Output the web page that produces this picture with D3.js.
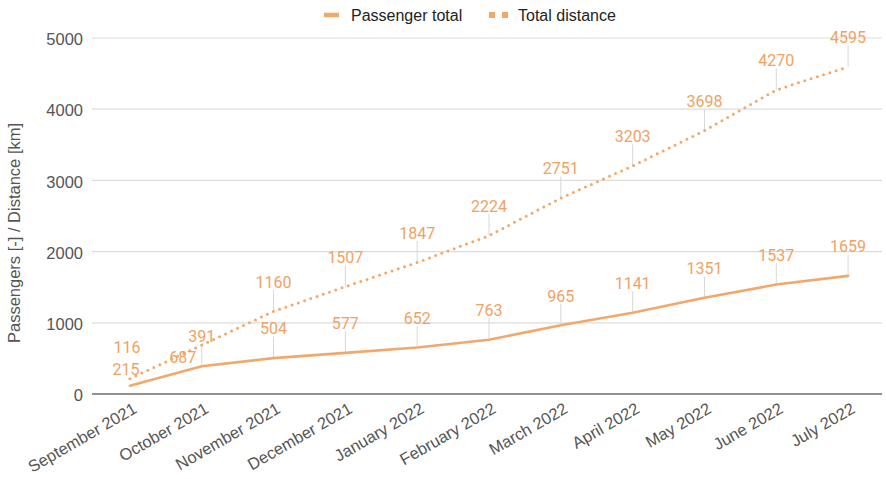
<!DOCTYPE html>
<html>
<head>
<meta charset="utf-8">
<script src="https://cdn.jsdelivr.net/npm/d3@7"></script>
<style>
  body { margin: 0; background: #fff; }
  svg { display: block; }
  .tick text { font-family: "Liberation Sans", Arial, sans-serif; }
</style>
</head>
<body>
<div id="chart"></div>
<script>
// data
const months = ["September 2021", "October 2021", "November 2021", "December 2021",
    "January 2022", "February 2022", "March 2022", "April 2022", "May 2022",
    "June 2022", "July 2022"];
const passengers = [116, 391, 504, 577, 652, 763, 965, 1141, 1351, 1537, 1659];
const distance = [215, 687, 1160, 1507, 1847, 2224, 2751, 3203, 3698, 4270, 4595];
const yTicks = [0, 1000, 2000, 3000, 4000, 5000];

const width = 886, height = 479;
const color = "#f2a86a";
const labelColor = "#f0a262";
const textGray = "#555";

// annotations that were moved out of each other's way in the original
const labelNudge = {
    "distance|September 2021": { dx: -4, dy: 20, stem: false },
    "passengers|September 2021": { dx: -3, dy: -9, stem: false },
    "distance|October 2021": { dx: -19, dy: 42, stem: false }
};

const svg = d3.select("#chart").append("svg")
    .attr("width", width)
    .attr("height", height);

const x = d3.scalePoint().domain(months).range([94, 884]).padding(0.5);
const y = d3.scaleLinear().domain([0, 5000]).range([394, 38]);

const left = 92, right = 882;

// gridlines
svg.append("g")
    .selectAll("line")
    .data(yTicks.filter(d => d > 0))
    .join("line")
    .attr("x1", left).attr("x2", right)
    .attr("y1", d => y(d)).attr("y2", d => y(d))
    .attr("stroke", "#dcdcdc")
    .attr("stroke-width", 1.2);

// y tick labels
const yAxis = svg.append("g")
    .attr("transform", `translate(${left},0)`)
    .call(d3.axisLeft(y).tickValues(yTicks).tickFormat(d3.format("d")).tickSize(0).tickPadding(9));
yAxis.select(".domain").remove();
yAxis.selectAll("text")
    .attr("fill", textGray)
    .attr("dy", "0.4em")
    .style("font-size", "16.5px");

// y title
svg.append("text")
    .attr("transform", "translate(20,233) rotate(-90)")
    .attr("text-anchor", "middle")
    .attr("fill", textGray)
    .style("font-family", "'Liberation Sans', Arial, sans-serif")
    .style("font-size", "16.5px")
    .text("Passengers [-] / Distance [km]");

// baseline
svg.append("line")
    .attr("x1", left).attr("x2", right)
    .attr("y1", y(0)).attr("y2", y(0))
    .attr("stroke", "#6b6b6b")
    .attr("stroke-width", 1.6);

// x labels
svg.append("g")
    .selectAll("text")
    .data(months)
    .join("text")
    .attr("transform", d => `translate(${x(d) + 8},${y(0) + 18}) rotate(-30)`)
    .attr("text-anchor", "end")
    .attr("fill", textGray)
    .style("font-family", "'Liberation Sans', Arial, sans-serif")
    .style("font-size", "16.5px")
    .text(d => d);

const series = [
    { key: "passengers", values: passengers, dash: null },
    { key: "distance", values: distance, dash: "0,6.6" }
];

const line = d3.line()
    .x((d, i) => x(months[i]))
    .y(d => y(d));

// annotation stems + labels
const labels = [];
series.forEach(s => {
    s.values.forEach((v, i) => {
        const n = labelNudge[s.key + "|" + months[i]] || { dx: 0, dy: 0, stem: true };
        labels.push({
            px: x(months[i]), py: y(v),
            lx: x(months[i]) + n.dx, ly: y(v) - 29.5 + n.dy,
            stem: n.stem, text: v
        });
    });
});

svg.append("g")
    .selectAll("line")
    .data(labels.filter(d => d.stem))
    .join("line")
    .attr("x1", d => d.px).attr("x2", d => d.px)
    .attr("y1", d => d.py).attr("y2", d => d.ly + 8)
    .attr("stroke", "#d8d8d8")
    .attr("stroke-width", 1);

svg.append("g")
    .selectAll("path")
    .data(series)
    .join("path")
    .attr("d", d => line(d.values))
    .attr("fill", "none")
    .attr("stroke", color)
    .attr("stroke-width", d => d.dash ? 3 : 2.6)
    .attr("stroke-linecap", "round")
    .attr("stroke-dasharray", d => d.dash);

svg.append("g")
    .selectAll("text")
    .data(labels)
    .join("text")
    .attr("x", d => d.lx)
    .attr("y", d => d.ly)
    .attr("dy", "0.36em")
    .attr("text-anchor", "middle")
    .attr("fill", labelColor)
    .style("font-family", "Roboto, sans-serif")
    .style("font-size", "16px")
    .text(d => d.text);

// legend
const legend = svg.append("g").attr("transform", "translate(0,15)");
legend.append("line")
    .attr("x1", 324).attr("x2", 339).attr("y1", 0).attr("y2", 0)
    .attr("stroke", color).attr("stroke-width", 4.5);
legend.append("text")
    .attr("x", 351).attr("y", 0).attr("dy", "0.35em")
    .attr("fill", "#222")
    .style("font-family", "'Liberation Sans', Arial, sans-serif")
    .style("font-size", "16px")
    .text("Passenger total");
legend.selectAll("rect")
    .data([0, 1])
    .join("rect")
    .attr("x", d => 489 + d * 13).attr("y", -3)
    .attr("width", 6).attr("height", 6)
    .attr("fill", color);
legend.append("text")
    .attr("x", 518).attr("y", 0).attr("dy", "0.35em")
    .attr("fill", "#222")
    .style("font-family", "'Liberation Sans', Arial, sans-serif")
    .style("font-size", "16px")
    .text("Total distance");
</script>
</body>
</html>
